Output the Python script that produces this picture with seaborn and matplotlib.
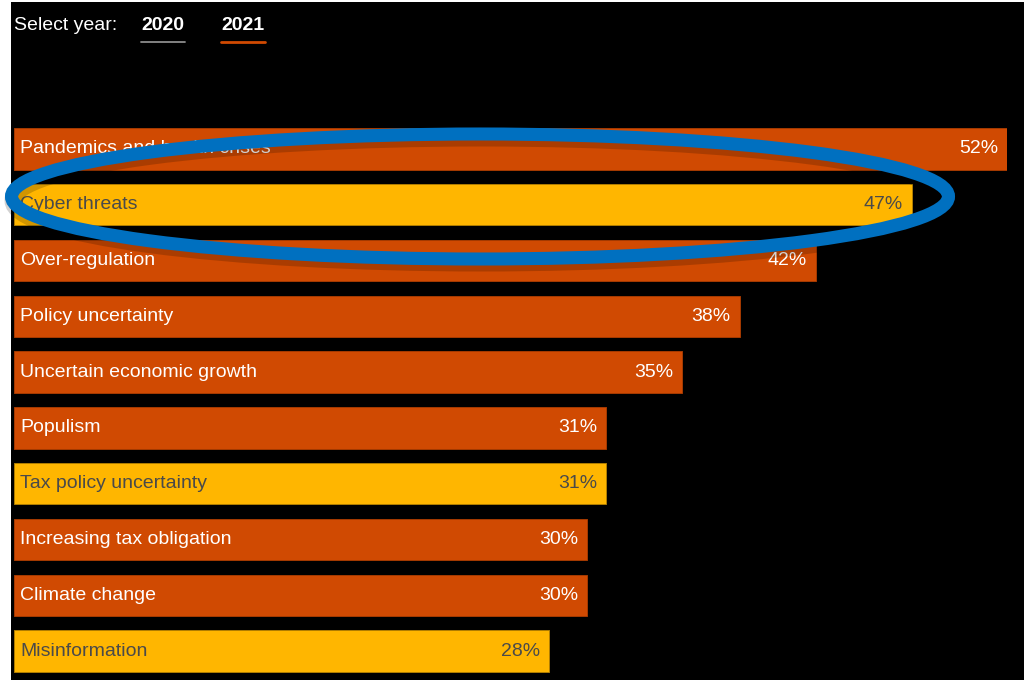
import matplotlib
matplotlib.use("Agg")
import matplotlib.pyplot as plt
import matplotlib.transforms as mtransforms
from matplotlib.patches import Ellipse
import matplotlib.patheffects as pe
import seaborn as sns
import pandas as pd

categories = [
    "Pandemics and health crises",
    "Cyber threats",
    "Over-regulation",
    "Policy uncertainty",
    "Uncertain economic growth",
    "Populism",
    "Tax policy uncertainty",
    "Increasing tax obligation",
    "Climate change",
    "Misinformation",
]
values = [52, 47, 42, 38, 35, 31, 31, 30, 30, 28]
highlight = [False, True, False, False, False, False, True, False, False, True]
years = ["2020", "2021"]

ORANGE = "#D04A02"
YELLOW = "#FFB600"

sns.set_theme(style="dark")
plt.rcParams["font.family"] = ["Liberation Sans", "DejaVu Sans"]

fig = plt.figure(figsize=(10.24, 6.83), dpi=100, facecolor="white")
# black panel (white thin margins left/bottom as in reference)
bg = fig.add_axes([11 / 1024, 3 / 683, 1 - 11 / 1024, 1 - 5 / 683])
bg.set_facecolor("black")
bg.set_xticks([]); bg.set_yticks([])
for s in bg.spines.values():
    s.set_visible(False)

ax = fig.add_axes([14 / 1024, 1 - 679 / 683, 993 / 1024, 558 / 683])
ax.set_facecolor("none")

df = pd.DataFrame({"category": categories, "value": values})
palette = {c: (YELLOW if h else ORANGE) for c, h in zip(categories, highlight)}
sns.barplot(data=df, y="category", x="value", hue="category", palette=palette,
            legend=False, orient="h", width=0.74, saturation=1, ax=ax)

for patch, h in zip(ax.patches, highlight):
    patch.set_edgecolor("#B07E00" if h else "#A53A00")
    patch.set_linewidth(0.7)

ax.set_xlim(0, 52)
ax.set_ylim(len(categories) - 0.5, -0.5)
ax.set_xticks([]); ax.set_yticks([])
ax.set_xlabel(""); ax.set_ylabel("")
for s in ax.spines.values():
    s.set_visible(False)

for i, (c, v, h) in enumerate(zip(categories, values, highlight)):
    col = "#4A4A4A" if h else "white"
    ax.annotate(c, xy=(0, i), xytext=(6, 0), textcoords="offset pixels",
                ha="left", va="center", fontsize=14, color=col)
    ax.annotate(f"{v}%", xy=(v, i), xytext=(-9, 0), textcoords="offset pixels",
                ha="right", va="center", fontsize=14, color=col)

# header
fig.text(14 / 1024, 1 - 25 / 683, "Select year:", fontsize=14, color="white",
         ha="left", va="center")
fig.text(163 / 1024, 1 - 25 / 683, years[0], fontsize=14, color="white",
         ha="center", va="center", fontweight="bold")
fig.text(243 / 1024, 1 - 25 / 683, years[1], fontsize=14, color="white",
         ha="center", va="center", fontweight="bold")
fig.add_artist(plt.Line2D([141 / 1024, 185 / 1024], [1 - 42 / 683, 1 - 42 / 683],
                          color="#8C8C8C", lw=1.3, transform=fig.transFigure))
fig.add_artist(plt.Line2D([221 / 1024, 265 / 1024], [1 - 41.5 / 683, 1 - 41.5 / 683],
                          color=ORANGE, lw=2.0, transform=fig.transFigure))

# blue highlight ellipse (pixel coordinates, y from top)
pix = mtransforms.Affine2D().scale(1 / 1024, -1 / 683).translate(0, 1) + fig.transFigure
ell = Ellipse((480, 196.5), 937, 125, angle=0, fill=False, edgecolor="#0070C0",
              linewidth=9.4, transform=pix, zorder=10)
ell.set_path_effects([
    pe.SimpleLineShadow(offset=(1, -3), shadow_color="black", alpha=0.18, linewidth=12),
    pe.Normal(),
])
fig.add_artist(ell)

fig.savefig("out.png", dpi=100, facecolor="white")
